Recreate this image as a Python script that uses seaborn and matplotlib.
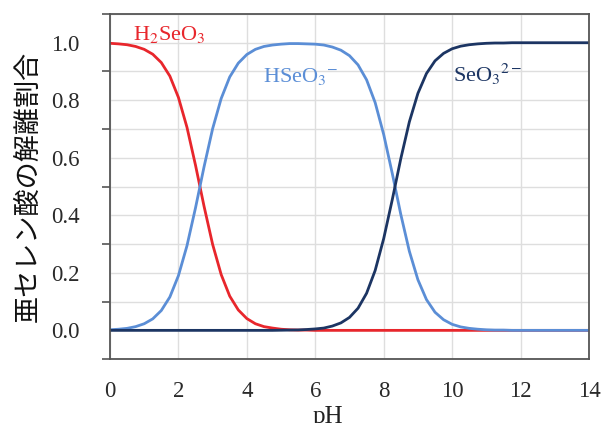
import numpy as np
import pandas as pd
import matplotlib
matplotlib.use("Agg")
import matplotlib.pyplot as plt
import seaborn as sns
from matplotlib.ticker import MultipleLocator

# ---- data ----
ph = np.linspace(0, 14, 57)  # 0.25 pH steps

h2seo3 = [0.998, 0.996, 0.993, 0.987, 0.977, 0.960, 0.931, 0.884, 0.810, 0.706,
          0.574, 0.431, 0.299, 0.194, 0.119, 0.071, 0.041, 0.023, 0.013, 0.008,
          0.004, 0.002, 0.001, 0.001] + [0.0] * 33

hseo3 = [0.002, 0.004, 0.007, 0.013, 0.023, 0.040, 0.069, 0.116, 0.190, 0.294,
         0.426, 0.569, 0.701, 0.806, 0.881, 0.929, 0.959, 0.977, 0.987, 0.992,
         0.995, 0.997, 0.997, 0.996, 0.995, 0.992, 0.985, 0.974, 0.955, 0.923,
         0.871, 0.792, 0.681, 0.546, 0.403, 0.275, 0.176, 0.107, 0.063, 0.037,
         0.021, 0.012, 0.007, 0.004, 0.002, 0.001, 0.001] + [0.0] * 10

seo3 = [0.0] * 20 + [0.0005, 0.001, 0.0015, 0.003, 0.005, 0.008, 0.015, 0.026,
                     0.045, 0.077, 0.129, 0.208, 0.319, 0.454, 0.597, 0.725,
                     0.824, 0.893, 0.937, 0.963, 0.979, 0.988, 0.993, 0.996,
                     0.998, 0.999, 0.999] + [1.0] * 10

species = ["H2SeO3", "HSeO3-", "SeO3 2-"]
labels = [r"H$_2$SeO$_3$", r"HSeO$_3$$^{-}$", r"SeO$_3$$^{2-}$"]
colors = ["#e8262c", "#5b8ed6", "#1c3563"]
label_pos = [(0.67, 1.01), (4.47, 0.864), (10.03, 0.864)]

xticks = [0, 2, 4, 6, 8, 10, 12, 14]
yticks = [0.0, 0.2, 0.4, 0.6, 0.8, 1.0]

df = pd.DataFrame({
    "pH": np.concatenate([ph, ph, ph]),
    "frac": np.concatenate([h2seo3, hseo3, seo3]),
    "species": np.repeat(species, len(ph)),
})

# ---- plot ----
sns.set_theme(style="white")
plt.rcParams["font.family"] = ["Liberation Serif", "DejaVu Serif"]
plt.rcParams["mathtext.fontset"] = "stix"

fig = plt.figure(figsize=(6.01, 4.23), dpi=100)
ax = fig.add_axes([0.183, 0.151, 0.797, 0.816])

sns.lineplot(data=df, x="pH", y="frac", hue="species", hue_order=species,
             palette=dict(zip(species, colors)), linewidth=2.0, legend=False, ax=ax)

ax.set_xlim(0, 14)
ax.set_ylim(-0.1, 1.1)
ax.set_xticks(xticks)
ax.set_xticklabels([str(t) for t in xticks])
ax.set_yticks(yticks)
ax.set_yticklabels([f"{t:.1f}" for t in yticks])
ax.yaxis.set_minor_locator(MultipleLocator(0.1))

ax.grid(True, which="both", axis="y", color="#dedede", linewidth=1.0)
ax.grid(True, which="major", axis="x", color="#dedede", linewidth=1.0)
ax.set_axisbelow(True)

for s in ax.spines.values():
    s.set_color("#555555")
    s.set_linewidth(1.3)

ax.tick_params(axis="x", which="major", direction="inout", length=8, width=1.2,
               color="#555555", labelsize=16.5, pad=12, labelcolor="#2a2a2a")
ax.tick_params(axis="y", which="both", direction="out", length=6, width=1.2,
               color="#555555", labelsize=16.5, pad=16, labelcolor="#2a2a2a")
ax.tick_params(axis="y", which="minor", left=True)

ax.set_xlabel("pH", fontsize=18, color="#222222")
ax.xaxis.set_label_coords(0.455, -0.135)
ax.set_ylabel("亜セレン酸の解離割合", fontsize=19.5, color="#111111",
              family=["Noto Sans CJK JP", "DejaVu Sans"])
ax.yaxis.set_label_coords(-0.142, 0.5)

for lab, col, (lx, ly) in zip(labels, colors, label_pos):
    ax.text(lx, ly, lab, color=col, fontsize=16, ha="left", va="baseline")

fig.savefig("out.png", dpi=100)
